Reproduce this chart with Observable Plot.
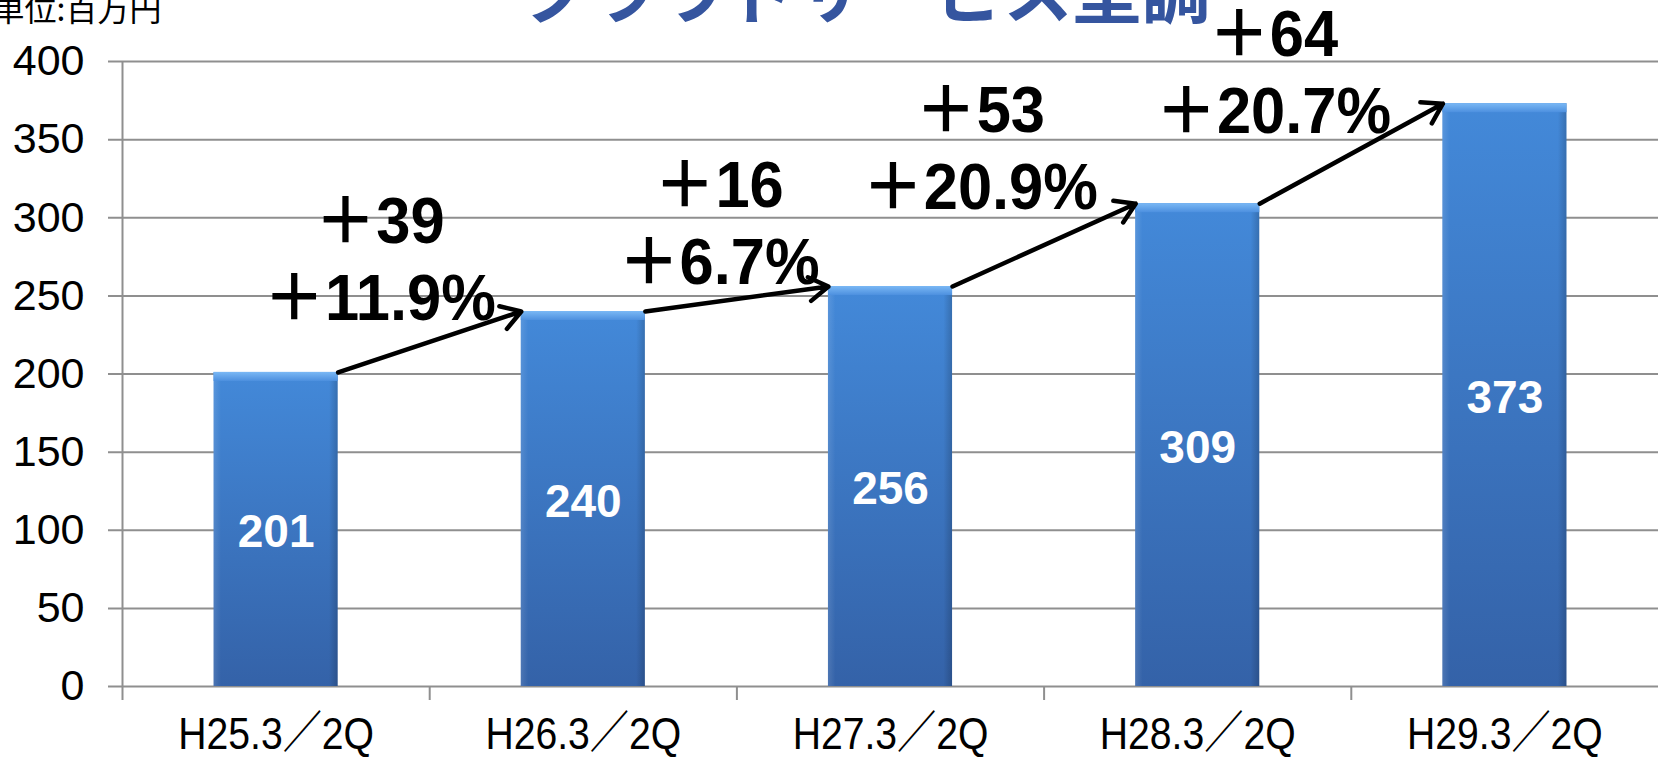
<!DOCTYPE html>
<html>
<head>
<meta charset="utf-8">
<script src="https://cdn.jsdelivr.net/npm/d3@7"></script>
<script src="https://cdn.jsdelivr.net/npm/@observablehq/plot@0.6"></script>
<style>
  html, body { margin: 0; padding: 0; background: #fff; }
  #chart svg { display: block; }
</style>
</head>
<body>
<div id="chart"></div>
<script>
// Half-year cloud service sales (unit: million yen)
const periods = ["H25.3／2Q", "H26.3／2Q", "H27.3／2Q", "H28.3／2Q", "H29.3／2Q"];
const sales = [201, 240, 256, 309, 373];
// Year-over-year change between consecutive periods, as printed on the slide
const growthAmount = ["＋39", "＋16", "＋53", "＋64"];
const growthRate = ["＋11.9%", "＋6.7%", "＋20.9%", "＋20.7%"];
const yTicks = [0, 50, 100, 150, 200, 250, 300, 350, 400];
const titleText = "クラウドサービス堅調";
const unitText = "単位:百万円";

// Layout / style constants
const W = 1658, H = 759;
const barHalf = 0.202;               // half bar width, in category units
const sans = "'Liberation Sans', Arial, 'Noto Sans CJK JP', sans-serif";
const cjk = "'Noto Sans CJK JP', sans-serif";
// per-note nudge of the two-line change label from the arrow midpoint (px)
const noteNudge = [[-50, -22], [-18, -15], [-64, -36], [-78, -21]];

const bars = sales.map((v, i) => ({period: periods[i], value: v, xa: i + 0.5 - barHalf, xb: i + 0.5 + barHalf, xc: i + 0.5}));
const notes = growthAmount.map((a, i) => ({
  text: a + "\n" + growthRate[i],
  x1: i + 0.5 + barHalf, y1: sales[i],
  x2: i + 1.5 - barHalf, y2: sales[i + 1],
  xm: i + 1, ym: (sales[i] + sales[i + 1]) / 2
}));

// Gradients for the bevelled bars
const defs = () => {
  const d = d3.create("svg:defs");
  const body = d.append("linearGradient").attr("id", "barBody").attr("x1", 0).attr("y1", 0).attr("x2", 0).attr("y2", 1);
  body.append("stop").attr("offset", "0%").attr("stop-color", "#4389d9");
  body.append("stop").attr("offset", "100%").attr("stop-color", "#3462a8");
  const side = d.append("linearGradient").attr("id", "barSide").attr("x1", 0).attr("y1", 0).attr("x2", 1).attr("y2", 0);
  side.append("stop").attr("offset", "0%").attr("stop-color", "#ffffff").attr("stop-opacity", 0.12);
  side.append("stop").attr("offset", "6%").attr("stop-color", "#ffffff").attr("stop-opacity", 0);
  side.append("stop").attr("offset", "93%").attr("stop-color", "#000000").attr("stop-opacity", 0);
  side.append("stop").attr("offset", "100%").attr("stop-color", "#000000").attr("stop-opacity", 0.18);
  const bevel = d.append("linearGradient").attr("id", "barBevel").attr("x1", 0).attr("y1", 0).attr("x2", 0).attr("y2", 1);
  bevel.append("stop").attr("offset", "0%").attr("stop-color", "#7ab8f5");
  bevel.append("stop").attr("offset", "100%").attr("stop-color", "#4d90df");
  return d.node();
};

const marks = [
  defs,
  // horizontal gridlines, extended left as tick marks
  Plot.ruleY(yTicks, {stroke: "#8f8f8f", strokeWidth: 2, insetLeft: -14}),
  // value axis line
  Plot.ruleX([0], {y1: 400, y2: 0, stroke: "#8f8f8f", strokeWidth: 2, insetBottom: -14}),
  // category separators below the baseline
  Plot.ruleX([1, 2, 3, 4], {y1: 0, y2: 0, stroke: "#8f8f8f", strokeWidth: 2, insetBottom: -14}),
  // bars
  Plot.rectY(bars, {x1: "xa", x2: "xb", y: "value", fill: "url(#barBody)"}),
  Plot.rectY(bars, {x1: "xa", x2: "xb", y: "value", fill: "url(#barSide)"}),
  Plot.rectY(bars, {x1: "xa", x2: "xb", y1: "value", y2: "value", insetBottom: -9, fill: "url(#barBevel)"}),
  // value labels inside bars
  Plot.text(bars, {x: "xc", y: (d) => d.value / 2, text: (d) => String(d.value), dy: 3,
    fill: "white", fontSize: 46, fontWeight: "bold", fontFamily: sans}),
  // y tick labels
  Plot.text(yTicks, {x: 0, y: (d) => d, text: (d) => String(d), textAnchor: "end", dx: -38,
    fill: "black", fontSize: 43, fontFamily: sans}),
  // category labels
  Plot.text(bars, {x: "xc", y: 0, text: "period", lineAnchor: "top", dy: 31, className: "xlab", ariaLabel: "xlab",
    fill: "black", fontSize: 45, fontFamily: sans}),
  // growth arrows
  Plot.arrow(notes, {x1: "x1", y1: "y1", x2: "x2", y2: "y2", stroke: "black", strokeWidth: 4.5, headLength: 7.5, headAngle: 64}),
  // growth labels
  ...notes.map((n, k) => Plot.text([n], {x: "xm", y: "ym", text: "text", lineAnchor: "bottom", lineHeight: 1.2,
    dx: noteNudge[k][0], dy: noteNudge[k][1], className: "note", ariaLabel: "note",
    fill: "black", fontSize: 64, fontWeight: "bold", fontFamily: sans})),
  // title and unit
  Plot.text([titleText], {frameAnchor: "top", lineAnchor: "bottom", dx: -25, dy: -44,
    fill: "#35559f", fontSize: 69, fontWeight: "bold", fontFamily: cjk}),
  Plot.text([unitText], {frameAnchor: "top-left", textAnchor: "start", lineAnchor: "bottom", dx: -130, dy: -41,
    fill: "black", fontSize: 32, fontFamily: cjk})
];

const chart = Plot.plot({
  width: W, height: H,
  marginTop: 61, marginLeft: 122, marginRight: 0, marginBottom: 73,
  x: {domain: [0, 5], axis: null},
  y: {domain: [0, 400], axis: null},
  style: {background: "white", overflow: "visible"},
  marks
});

// Condense the narrow-typeset labels horizontally about their own anchor
function condense(svg, name, sx) {
  svg.querySelectorAll(`g.${name} text, g[aria-label="${name}"] text`).forEach((t) => {
    const tr = t.getAttribute("transform");
    if (tr) {
      t.setAttribute("transform", `${tr} scale(${sx},1)`);
    } else {
      const x = +t.getAttribute("x") || 0, y = +t.getAttribute("y") || 0;
      t.setAttribute("transform", `translate(${x},${y}) scale(${sx},1) translate(${-x},${-y})`);
    }
  });
}
condense(chart, "xlab", 0.87);
condense(chart, "note", 0.96);

document.getElementById("chart").appendChild(chart);
</script>
</body>
</html>
